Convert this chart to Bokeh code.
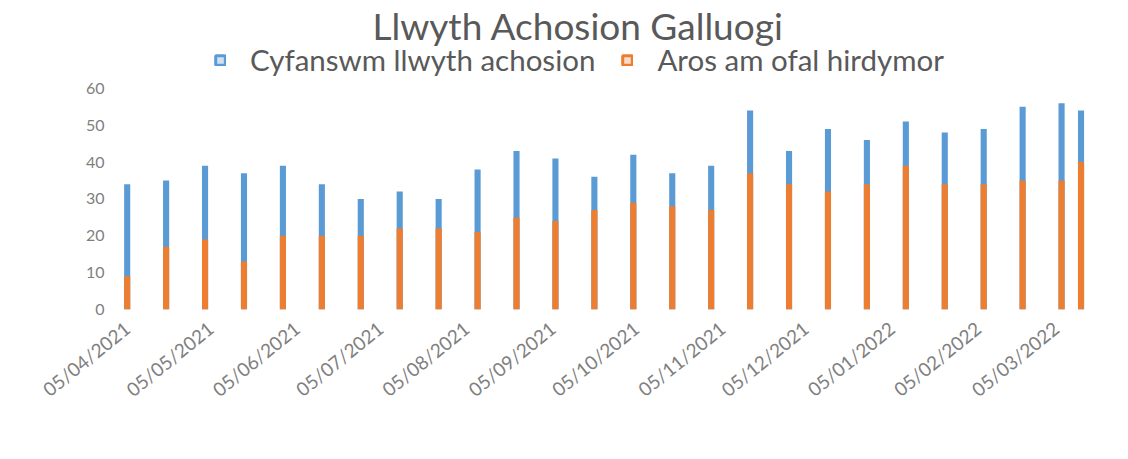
import math
import pandas as pd
from bokeh.plotting import figure
from bokeh.models import ColumnDataSource, FixedTicker, Legend, LegendItem, Range1d
from bokeh.embed import file_html
from bokeh.resources import INLINE

# ---- data ----
dates = ["2021-04-05", "2021-04-19", "2021-05-03", "2021-05-17", "2021-05-31",
         "2021-06-14", "2021-06-28", "2021-07-12", "2021-07-26", "2021-08-09",
         "2021-08-23", "2021-09-06", "2021-09-20", "2021-10-04", "2021-10-18",
         "2021-11-01", "2021-11-15", "2021-11-29", "2021-12-13", "2021-12-27",
         "2022-01-10", "2022-01-24", "2022-02-07", "2022-02-21", "2022-03-07",
         "2022-03-14"]
total_caseload = [34, 35, 39, 37, 39, 34, 30, 32, 30, 38, 43, 41, 36, 42, 37, 39,
                  54, 43, 49, 46, 51, 48, 49, 55, 56, 54]
awaiting_care = [9, 17, 19, 13, 20, 20, 20, 22, 22, 21, 25, 24, 27, 29, 28, 27,
                 37, 34, 32, 34, 39, 34, 34, 35, 35, 40]
tick_dates = ["2021-04-05", "2021-05-05", "2021-06-05", "2021-07-05", "2021-08-05",
              "2021-09-05", "2021-10-05", "2021-11-05", "2021-12-05", "2022-01-05",
              "2022-02-05", "2022-03-05"]
tick_labels = ["05/04/2021", "05/05/2021", "05/06/2021", "05/07/2021", "05/08/2021",
               "05/09/2021", "05/10/2021", "05/11/2021", "05/12/2021", "05/01/2022",
               "05/02/2022", "05/03/2022"]
series_names = ["Cyfanswm llwyth achosion", "Aros am ofal hirdymor"]
title_text = "Llwyth Achosion Galluogi"

BLUE = "#5B9BD5"
ORANGE = "#ED7D31"
GREY = "#595959"
FONT = "Lato"

src = ColumnDataSource(dict(date=pd.to_datetime(dates), total=total_caseload,
                            care=awaiting_care))

DAY = 86400000
x_start = pd.Timestamp("2021-03-30").value // 10**6
x_end = pd.Timestamp("2022-03-21").value // 10**6

p = figure(width=1112, height=443, x_axis_type="datetime",
           x_range=Range1d(x_start, x_end), y_range=Range1d(0, 71.1),
           output_backend="svg", toolbar_location=None,
           min_border_left=110, min_border_right=12,
           min_border_top=38, min_border_bottom=134)

bw = 2.2 * DAY
r1 = p.vbar(x="date", top="total", width=bw, source=src, fill_color=BLUE,
            line_color=None)
r2 = p.vbar(x="date", top="care", width=bw, source=src, fill_color=ORANGE,
            line_color=None)

# hollow-looking legend swatches (hidden renderers, used only by the legend)
d1 = p.vbar(x="date", top="total", width=bw, source=src, fill_color="#cfe2f3",
            line_color=BLUE, line_width=3, visible=False)
d2 = p.vbar(x="date", top="care", width=bw, source=src, fill_color="#f9dcc8",
            line_color=ORANGE, line_width=3, visible=False)

legend = Legend(items=[LegendItem(label=series_names[0], renderers=[d1]),
                       LegendItem(label=series_names[1], renderers=[d2])],
                orientation="horizontal", location=(104, 232),
                label_text_font=FONT, label_text_font_size="29.5px",
                label_text_color=GREY, glyph_width=12, glyph_height=12,
                label_standoff=24, spacing=26, padding=0, margin=0,
                inactive_fill_alpha=0,
                border_line_color=None, background_fill_alpha=0)
p.add_layout(legend)

p.title.text = title_text
p.title.align = "left"
p.title.offset = 262
p.title.standoff = 0
p.title.text_line_height = 1.0
p.title.text_font = FONT
p.title.text_font_style = "normal"
p.title.text_font_size = "37px"
p.title.text_color = GREY

p.xgrid.grid_line_color = None
p.ygrid.grid_line_color = None
p.outline_line_color = None

p.yaxis.ticker = FixedTicker(ticks=[0, 10, 20, 30, 40, 50, 60])
p.yaxis.axis_line_color = None
p.yaxis.major_tick_line_color = None
p.yaxis.minor_tick_line_color = None
p.yaxis.major_tick_out = 0
p.yaxis.major_label_standoff = 6
p.yaxis.major_label_text_font = FONT
p.yaxis.major_label_text_font_size = "16px"
p.yaxis.major_label_text_color = "#7f7f7f"

tick_ms = [int(pd.Timestamp(d).value // 10**6) for d in tick_dates]
p.xaxis.ticker = FixedTicker(ticks=tick_ms)
p.xaxis.major_label_overrides = {t: l for t, l in zip(tick_ms, tick_labels)}
p.xaxis.major_label_orientation = math.radians(39)
p.xaxis.axis_line_color = None
p.xaxis.major_tick_line_color = None
p.xaxis.minor_tick_line_color = None
p.xaxis.major_tick_out = 6
p.xaxis.major_label_standoff = 10
p.xaxis.major_label_text_font = FONT
p.xaxis.major_label_text_font_size = "19px"
p.xaxis.major_label_text_color = "#7f7f7f"

p.background_fill_color = "white"
p.border_fill_color = "white"

open("out.html", "w").write(file_html(p, INLINE))
